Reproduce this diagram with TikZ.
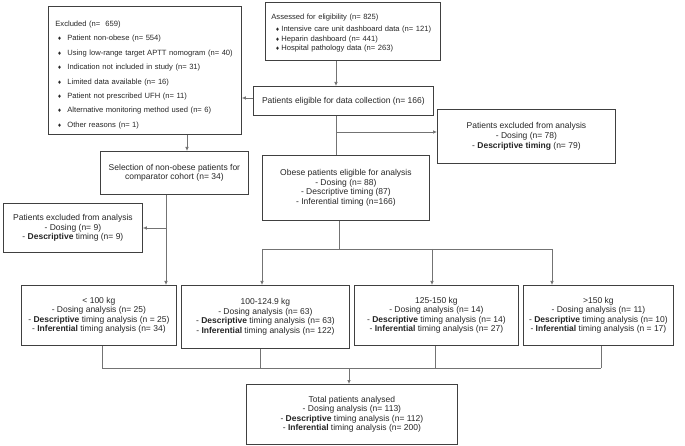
\documentclass[tikz,border=0pt]{standalone}
\usepackage{fontspec}
\setmainfont{Liberation Sans}
\newfontfamily\djv{DejaVu Sans}
\usetikzlibrary{arrows.meta}
\newcommand{\bul}{{\djv\fontsize{5}{5}\selectfont ♦}}
\begin{document}
\begin{tikzpicture}[x=1pt,y=-1pt,
  every node/.style={font=\fontsize{8.5}{9.6}\selectfont, text=black!85},
  box/.style={draw=black!75, line width=0.8pt, inner sep=0pt, align=center, anchor=north west},
  small/.style={font=\fontsize{7.6}{9.5}\selectfont},
  conn/.style={draw=black!55, line width=0.7pt},
  arr/.style={conn, -{Latex[length=4pt,width=3.5pt]}}]
\useasboundingbox (0,0) rectangle (685,446);

% boxes
\node[box, small, align=left, text width=179pt, minimum width=193pt, minimum height=128pt] (excl) at (48,6)
 {\rule{0pt}{14.5pt}Excluded (n=\ \ 659)\\[4.9pt]
  \hspace*{2pt}\makebox[10pt][l]{\bul}Patient non-obese (n= 554)\\[4.9pt]
  \hspace*{2pt}\makebox[10pt][l]{\bul}Using low-range target APTT nomogram (n= 40)\\[4.9pt]
  \hspace*{2pt}\makebox[10pt][l]{\bul}Indication not included in study (n= 31)\\[4.9pt]
  \hspace*{2pt}\makebox[10pt][l]{\bul}Limited data available (n= 16)\\[4.9pt]
  \hspace*{2pt}\makebox[10pt][l]{\bul}Patient not prescribed UFH (n= 11)\\[4.9pt]
  \hspace*{2pt}\makebox[10pt][l]{\bul}Alternative monitoring method used (n= 6)\\[4.9pt]
  \hspace*{2pt}\makebox[10pt][l]{\bul}Other reasons (n= 1)};
\node[box, small, align=left, text width=163pt, minimum width=175pt, minimum height=58pt] (assess) at (265,2)
 {\rule{0pt}{9pt}Assessed for eligibility (n= 825)\\[2.4pt]
  \hspace*{4pt}\makebox[6pt][l]{\bul}Intensive care unit dashboard data (n= 121)\\
  \hspace*{4pt}\makebox[6pt][l]{\bul}Heparin dashboard (n= 441)\\
  \hspace*{4pt}\makebox[6pt][l]{\bul}Hospital pathology data (n= 263)};
\node[box, minimum width=180pt, minimum height=29pt] (elig) at (253,86)
 {Patients eligible for data collection (n= 166)};
\node[box, minimum width=178pt, minimum height=54pt] (exr) at (437,109)
 {Patients excluded from analysis\\- Dosing (n= 78)\\- \textbf{Descriptive timing} (n= 79)};
\node[box, minimum width=148pt, minimum height=43pt] (sel) at (100,151)
 {Selection of non-obese patients for\\comparator cohort (n= 34)};
\node[box, minimum width=167pt, minimum height=65pt] (obese) at (262,155)
 {Obese patients eligible for analysis\\- Dosing (n= 88)\\- Descriptive timing (87)\\- Inferential timing (n=166)};
\node[box, minimum width=139pt, minimum height=49pt] (exl) at (3,203)
 {Patients excluded from analysis\\- Dosing (n= 9)\\- \textbf{Descriptive} timing (n= 9)};
\node[box, minimum width=155pt, minimum height=60pt] (w1) at (21,285)
 {< 100 kg\\- Dosing analysis (n= 25)\\- \textbf{Descriptive} timing analysis (n = 25)\\- \textbf{Inferential} timing analysis (n= 34)};
\node[box, minimum width=168pt, minimum height=63pt] (w2) at (181,285)
 {100-124.9 kg\\- Dosing analysis (n= 63)\\- \textbf{Descriptive} timing analysis (n= 63)\\- \textbf{Inferential} timing analysis (n= 122)};
\node[box, minimum width=164pt, minimum height=60pt] (w3) at (354,285)
 {125-150 kg\\- Dosing analysis (n= 14)\\- \textbf{Descriptive} timing analysis (n= 14)\\- \textbf{Inferential} timing analysis (n= 27)};
\node[box, minimum width=150pt, minimum height=60pt] (w4) at (523,285)
 {>150 kg\\- Dosing analysis (n= 11)\\- \textbf{Descriptive} timing analysis (n= 10)\\- \textbf{Inferential} timing analysis (n = 17)};
\node[box, minimum width=211pt, minimum height=60pt] (tot) at (246,384)
 {Total patients analysed\\- Dosing analysis (n= 113)\\- \textbf{Descriptive} timing analysis (n= 112)\\- \textbf{Inferential} timing analysis (n= 200)};

% helper coordinates
\coordinate (c1) at (336,0);
\coordinate (c3) at (187,0);
\coordinate (c4) at (166,0);
\coordinate (c5) at (339,0);
\coordinate (c6) at (262,0);
\coordinate (c7) at (432,0);
\coordinate (c8) at (552,0);
\coordinate (b1) at (102,0);
\coordinate (b2) at (260,0);
\coordinate (b3) at (435,0);
\coordinate (b4) at (601,0);
\coordinate (bt) at (349,0);
\coordinate (r0) at (0,98);
\coordinate (r1) at (0,132);
\coordinate (r2) at (0,228);
\coordinate (r3) at (0,249);
\coordinate (r4) at (0,368);

% connectors
\draw[arr] (assess.south -| c1) -- (elig.north -| c1);
\draw[arr] (elig.west |- r0) -- (excl.east |- r0);
\draw[conn] (elig.south -| c1) -- (obese.north -| c1);
\draw[arr] (c1 |- r1) -- (exr.west |- r1);
\draw[arr] (excl.south -| c3) -- (sel.north -| c3);
\draw[arr] (sel.south -| c4) -- (w1.north -| c4);
\draw[arr] (c4 |- r2) -- (exl.east |- r2);
\draw[conn] (obese.south -| c5) -- (c5 |- r3);
\draw[conn] (c6 |- r3) -- (c8 |- r3);
\draw[arr] (c6 |- r3) -- (w2.north -| c6);
\draw[arr] (c7 |- r3) -- (w3.north -| c7);
\draw[arr] (c8 |- r3) -- (w4.north -| c8);
\draw[conn] (w1.south -| b1) -- (b1 |- r4);
\draw[conn] (w2.south -| b2) -- (b2 |- r4);
\draw[conn] (w3.south -| b3) -- (b3 |- r4);
\draw[conn] (w4.south -| b4) -- (b4 |- r4);
\draw[conn] (b1 |- r4) -- (b4 |- r4);
\draw[arr] (bt |- r4) -- (tot.north -| bt);
\end{tikzpicture}
\end{document}
